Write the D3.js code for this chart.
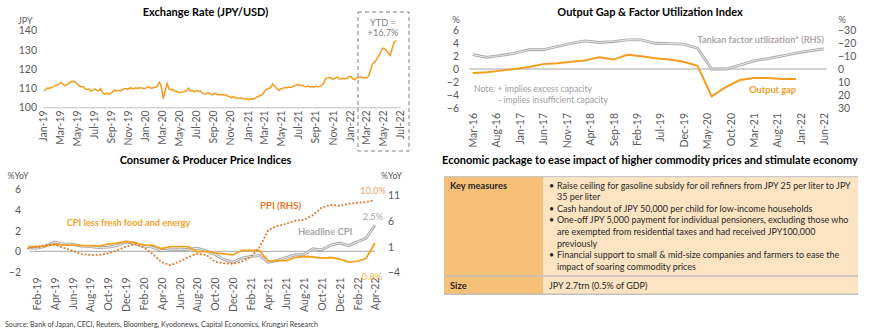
<!DOCTYPE html>
<html>
<head>
<meta charset="utf-8">
<script src="https://cdn.jsdelivr.net/npm/d3@7"></script>
<style>
  body { margin: 0; background: #fff; }
  svg { display: block; font-family: Lato, "Open Sans", sans-serif; }
</style>
</head>
<body>
<svg id="chart" width="870" height="333"></svg>
<script>
// ---------------- data ----------------
// weekly JPY/USD, first Friday of 2019 onwards
const fxStart = "2019-01-04";
const fxWeekly = [
  // 2019
  108.6, 109.2, 110.1, 109.8,  110.4, 110.9, 111.3, 111.6,  112.4, 112.9, 111.8, 111.2, 112.0,
  112.6, 113.4, 113.6, 113.2,  112.4, 111.3, 110.6, 110.9, 109.6,  109.3, 109.6, 108.4, 108.9,
  109.6, 108.8, 108.5, 109.7,  107.6, 106.9, 107.4, 106.8, 107.3,  107.9, 108.9, 108.6, 108.8,
  108.4, 109.2, 109.5, 109.8,  109.3, 110.1, 109.9, 109.6, 110.2,  109.7, 110.3, 110.0, 109.8,
  // 2020
  109.9, 110.7, 110.5, 109.8, 110.2,  110.6, 110.9, 113.0, 111.2,  104.4, 108.6, 112.4, 109.6,
  109.0, 109.4, 108.5, 108.2,  107.6, 107.8, 107.9, 108.2, 108.6,  110.0, 108.4, 108.8, 108.1,
  108.7, 108.2, 108.6, 107.4, 106.9,  107.1, 107.7, 107.0, 106.5,  107.2, 107.1, 106.4, 106.6,
  106.5, 106.6, 106.3, 105.8, 105.5,  104.9, 105.7, 104.8, 104.9,  104.6, 104.9, 104.3, 104.6,
  // 2021
  104.3, 104.0, 104.5, 104.2, 104.7,  105.5, 105.9, 106.3, 106.8,  108.6, 109.6, 109.8, 110.4,
  112.2, 110.9, 109.8, 108.9, 109.5,  109.8, 110.4, 110.1, 110.6,  110.3, 110.6, 111.2, 111.5,
  112.1, 111.3, 111.6, 110.9, 110.7,  111.1, 110.6, 110.8, 110.5,  110.9, 110.7, 110.8, 111.4,
  112.6, 115.0, 115.2, 115.6, 115.0,  114.7, 115.3, 115.7, 114.8,  114.9, 115.1, 114.8, 115.2, 116.0,
  // 2022
  116.0, 114.7, 114.4, 115.3,  115.6, 115.9, 115.3, 115.4,  115.4, 116.4, 119.6, 122.6,
  123.5, 124.8, 126.5, 128.4, 130.8,  130.5, 129.6, 128.3, 127.0,  130.6, 133.9, 134.8
];

// quarterly, from Mar-16
const gapStart = "2016-03-01";
const outputGap = [-0.6, -0.5, -0.25, 0.0, 0.3, 0.75, 0.9, 1.1, 1.3, 1.8, 1.45, 2.2,
  1.95, 1.65, 1.45, 1.1, 0.5, -4.2, -2.8, -1.7, -1.4, -1.4, -1.55, -1.55];
const tankan = [-11, -9, -10.4, -12.2, -14.8, -14.8, -17.3, -19.8, -21.6, -20.4, -21.1, -22.4,
  -22.4, -19.8, -19.5, -19.1, -16, 0, 0, -3, -6.3, -8, -10, -12.3, -14, -15.5];

// monthly % YoY, from Jan-19
const cpiStart = "2019-01-01";
const coreCpi = [0.45, 0.45, 0.5, 0.7, 0.6, 0.6, 0.55, 0.55, 0.5, 0.7, 0.8, 0.95,
  0.85, 0.6, 0.6, 0.25, 0.45, 0.45, 0.45, -0.05, 0.0, -0.15, -0.25, -0.35,
  0.1, 0.1, 0.1, -0.95, -0.9, -0.9, -0.6, -0.5, -0.55, -0.65, -0.6, -0.75,
  -1.05, -0.95, -0.7, 0.8];
const headlineCpi = [0.3, 0.3, 0.5, 0.9, 0.7, 0.7, 0.5, 0.45, 0.35, 0.4, 0.55, 0.9,
  0.75, 0.5, 0.4, 0.05, 0.15, 0.15, 0.2, 0.3, 0.05, -0.3, -0.8, -1.05,
  -0.65, -0.5, -0.4, -1.05, -0.9, -0.6, -0.35, -0.3, 0.25, 0.15, 0.6, 0.8,
  0.55, 0.95, 1.25, 2.55];
const ppi = [0.7, 0.9, 1.3, 1.4, 0.8, 0.2, -0.4, -0.6, -0.6, -0.3, 0.3, 1.0,
  1.5, 0.8, -0.4, -2.0, -2.6, -1.9, -1.0, -0.4, -0.6, -1.9, -2.2, -2.3,
  -1.9, -0.9, 0.8, 4.2, 5.0, 5.4, 6.0, 6.2, 7.1, 8.6, 9.1, 8.9,
  9.3, 9.5, 9.6, 10.0];

const keyMeasures = [
  ["Raise ceiling for gasoline subsidy for oil refiners from JPY 25 per liter to  JPY", "35 per liter"],
  ["Cash handout of JPY 50,000 per child for low-income households"],
  ["One-off JPY 5,000 payment for individual pensioners, excluding those who",
   "are exempted from residential taxes and had received JPY100,000", "previously"],
  ["Financial support to small & mid-size companies and farmers to ease the",
   "impact of soaring commodity prices"]
];
const packageSize = "JPY 2.7trn (0.5% of GDP)";
const sourceNote = "Source: Bank of Japan, CECI, Reuters, Bloomberg, Kyodonews, Capital Economics, Krungsri Research";

// ---------------- helpers ----------------
const parse = d3.timeParse("%Y-%m-%d");
const monthFmt = d3.timeFormat("%b-%y");
const svg = d3.select("#chart");
const axisColor = "#595959";
const orange = "#F39C1F";
const tickSize = 10.5;

function styleAxis(g, size) {
  g.attr("color", axisColor).attr("font-size", size).attr("font-family", null);
  g.select(".domain").remove();
}
function rotateLabels(g, pad) {
  g.selectAll(".tick text")
    .attr("transform", "rotate(-90)")
    .attr("text-anchor", "end")
    .attr("x", -pad).attr("y", 0).attr("dy", "0.35em");
}
function label(txt, x, y, opts = {}) {
  return svg.append("text").text(txt)
    .attr("x", x).attr("y", y)
    .attr("text-anchor", opts.anchor || "start")
    .attr("font-size", opts.size || 9)
    .attr("font-weight", opts.bold ? "bold" : null)
    .attr("fill", opts.color || axisColor);
}
// font size that makes txt about `width` px wide (a few passes, hinting is not linear)
function fitSize(txt, width) {
  const probe = svg.append("text").text(txt);
  let s = 9;
  for (let k = 0; k < 4; k++) {
    probe.attr("font-size", s);
    s = s * width / probe.node().getBBox().width;
  }
  probe.remove();
  return s;
}
function grayLine(data, line) {
  svg.append("path").datum(data).attr("d", line)
    .attr("fill", "none").attr("stroke", "#A5A5A5").attr("stroke-width", 2.8);
  svg.append("path").datum(data).attr("d", line)
    .attr("fill", "none").attr("stroke", "#E6E6E6").attr("stroke-width", 1.1);
}

// ---------------- exchange rate ----------------
const fx = fxWeekly.map((v, i) => ({ date: d3.timeWeek.offset(parse(fxStart), i), v }));
const xFx = d3.scaleTime().domain([parse("2019-01-01"), parse("2022-07-01")]).range([43, 400]);
const yFx = d3.scaleLinear().domain([100, 140]).range([107.3, 30.5]);

svg.append("g").attr("transform", "translate(42,0)")
  .call(d3.axisLeft(yFx).tickValues([100, 110, 120, 130, 140]).tickSize(0).tickPadding(5))
  .call(g => styleAxis(g, tickSize));
const fxAxis = svg.append("g").attr("transform", `translate(0,${yFx(100)})`)
  .call(d3.axisBottom(xFx).ticks(d3.timeMonth.every(2)).tickFormat(monthFmt).tickSize(0).tickSizeOuter(0))
  .call(g => { g.attr("color", axisColor).attr("font-size", tickSize).attr("font-family", null); rotateLabels(g, 3); });
fxAxis.select(".domain").attr("stroke", "#BFBFBF");

svg.append("path").datum(fx)
  .attr("d", d3.line().x(d => xFx(d.date)).y(d => yFx(d.v)))
  .attr("fill", "none").attr("stroke", orange).attr("stroke-width", 1.5);

svg.append("rect").attr("x", 358).attr("y", 12).attr("width", 51).attr("height", 139)
  .attr("fill", "none").attr("stroke", "#7F7F7F").attr("stroke-dasharray", "4,3");
label("YTD =", 383, 26, { anchor: "middle", size: 9.2, color: "#7F7F7F" });
label("+16.7%", 383, 36, { anchor: "middle", size: 9.2, color: "#7F7F7F" });
label("Exchange Rate (JPY/USD)", 205.5, 16, { anchor: "middle", size: 11, bold: true, color: "#000" });
label("JPY", 18, 23.5, { size: 9 });

// ---------------- output gap ----------------
const gap0 = parse(gapStart);
const xGap = d3.scaleTime().domain([gap0, parse("2022-06-01")]).range([472.7, 824]);
const yGapL = d3.scaleLinear().domain([-6, 6]).range([108, 30]);
const yGapR = d3.scaleLinear().domain([-30, 30]).range([30, 108]);

svg.append("g").attr("transform", "translate(464,0)")
  .call(d3.axisLeft(yGapL).tickValues(d3.range(-6, 7, 2)).tickSize(0).tickPadding(5))
  .call(g => styleAxis(g, tickSize));
svg.append("g").attr("transform", "translate(833,0)")
  .call(d3.axisRight(yGapR).tickValues(d3.range(-30, 31, 10)).tickSize(0).tickPadding(5))
  .call(g => styleAxis(g, tickSize));
svg.append("g").attr("transform", "translate(0,110)")
  .call(d3.axisBottom(xGap).tickValues(d3.range(0, 76, 5).map(m => d3.timeMonth.offset(gap0, m)))
    .tickFormat(monthFmt).tickSize(0))
  .call(g => { styleAxis(g, tickSize); rotateLabels(g, 3); });
svg.append("line").attr("x1", 469).attr("x2", 827).attr("y1", yGapL(0)).attr("y2", yGapL(0))
  .attr("stroke", "#A6A6A6");

grayLine(tankan.map((v, i) => ({ date: d3.timeMonth.offset(gap0, 3 * i), v })),
  d3.line().x(d => xGap(d.date)).y(d => yGapR(d.v)));
svg.append("path").datum(outputGap.map((v, i) => ({ date: d3.timeMonth.offset(gap0, 3 * i), v })))
  .attr("d", d3.line().x(d => xGap(d.date)).y(d => yGapL(d.v)))
  .attr("fill", "none").attr("stroke", orange).attr("stroke-width", 2);

label("Output Gap & Factor Utilization Index", 650, 15.7, { anchor: "middle", size: 11, bold: true, color: "#000" });
label("%", 456, 22.5, { anchor: "middle", size: 9.5 });
label("%", 842, 22.5, { anchor: "middle", size: 9.5 });
label("Tankan factor utilization* (RHS)", 824, 42.5, { anchor: "end", size: 9.1, bold: true, color: "#ABA5A5" });
label("Output gap", 796, 93, { anchor: "end", size: 9.2, bold: true, color: orange });
label("Note: + implies excess capacity", 474, 91.5, { size: 8.7, color: "#9E9E9E" });
label("- implies insufficient capacity", 498, 102.5, { size: 8.7, color: "#9E9E9E" });

// ---------------- CPI / PPI ----------------
const cpi0 = parse(cpiStart);
const xCpi = d3.scaleTime().domain([parse("2019-02-01"), parse("2022-04-01")]).range([37.3, 375]);
const yCpiL = d3.scaleLinear().domain([-2, 6]).range([272, 189.3]);
const yCpiR = d3.scaleLinear().domain([-4, 11]).range([272.5, 195]);
const cpiX = (v, i) => ({ date: d3.timeMonth.offset(cpi0, i), v });

svg.append("g").attr("transform", "translate(26,0)")
  .call(d3.axisLeft(yCpiL).tickValues([-2, 0, 2, 4, 6]).tickSize(0).tickPadding(5))
  .call(g => styleAxis(g, tickSize));
svg.append("g").attr("transform", "translate(383,0)")
  .call(d3.axisRight(yCpiR).tickValues([-4, 1, 6, 11]).tickSize(0).tickPadding(5))
  .call(g => styleAxis(g, tickSize));
svg.append("g").attr("transform", "translate(0,274.5)")
  .call(d3.axisBottom(xCpi).tickValues(d3.range(0, 39, 2).map(m => d3.timeMonth.offset(parse("2019-02-01"), m)))
    .tickFormat(monthFmt).tickSize(0))
  .call(g => { styleAxis(g, tickSize); rotateLabels(g, 3); });
svg.append("line").attr("x1", 30).attr("x2", 375).attr("y1", yCpiL(0)).attr("y2", yCpiL(0))
  .attr("stroke", "#A6A6A6");

grayLine(headlineCpi.map(cpiX), d3.line().x(d => xCpi(d.date)).y(d => yCpiL(d.v)));
svg.append("path").datum(coreCpi.map(cpiX))
  .attr("d", d3.line().x(d => xCpi(d.date)).y(d => yCpiL(d.v)))
  .attr("fill", "none").attr("stroke", "#F4A11F").attr("stroke-width", 1.8);
svg.append("path").datum(ppi.map(cpiX))
  .attr("d", d3.line().x(d => xCpi(d.date)).y(d => yCpiR(d.v)))
  .attr("fill", "none").attr("stroke", "#E8772A").attr("stroke-width", 2)
  .attr("stroke-dasharray", "0.1,3.6").attr("stroke-linecap", "round");

label("Consumer & Producer Price Indices", 205.5, 164, { anchor: "middle", size: 11, bold: true, color: "#000" });
label("%YoY", 7.5, 179, { size: 8.8 });
label("%YoY", 381, 179, { size: 8.8 });
label("CPI less fresh food and energy", 66.7, 226, { size: 9.2, bold: true, color: "#F4A11F" });
label("PPI (RHS)", 260, 208.5, { size: 9.6, bold: true, color: "#E8772A" });
label("Headline CPI", 298, 235, { size: 9.4, bold: true, color: "#A6A6A6" });
label("10.0%", 373, 194, { anchor: "middle", size: 9.3, color: "#F0A060" });
label("2.5%", 373, 220, { anchor: "middle", size: 9.3, color: "#A6A6A6" });
label("0.8%", 372, 279.5, { anchor: "middle", size: 9.3, color: "#F4B040" });

label(sourceNote, 5, 326.5, { size: fitSize(sourceNote, 313), color: "#404040" });

// ---------------- table ----------------
label("Economic package to ease impact of higher commodity prices and stimulate economy",
  650, 164, { anchor: "middle", size: 11, bold: true, color: "#000" });

const tX = 444, tW = 414, c1 = 99, r1Top = 176.7, r1H = 99.3, r2H = 18.3;
svg.append("rect").attr("x", tX).attr("y", r1Top).attr("width", c1).attr("height", r1H + r2H).attr("fill", "#F7C077");
svg.append("rect").attr("x", tX + c1).attr("y", r1Top).attr("width", tW - c1).attr("height", r1H + r2H).attr("fill", "#FCE4C2");
[r1Top, r1Top + r1H, r1Top + r1H + r2H].forEach(y =>
  svg.append("line").attr("x1", tX).attr("x2", tX + tW).attr("y1", y).attr("y2", y)
    .attr("stroke", "#BFBFBF").attr("stroke-width", y === r1Top ? 1 : 1.6));

const bodySize = fitSize(keyMeasures[0][0], 294);
label("Key measures", 450, 188.5, { size: 9.3, bold: true, color: "#262626" });
label("Size", 450, 288.5, { size: 9.3, bold: true, color: "#262626" });
let ln = 0;
keyMeasures.forEach(item => {
  item.forEach((txt, j) => {
    const y = 188.5 + ln * 11.6;
    if (j === 0) label("\u2022", 549, y, { size: bodySize, color: "#262626" });
    label(txt, 557, y, { size: bodySize, color: "#262626" });
    ln++;
  });
});
label(packageSize, 549, 288.5, { size: bodySize, color: "#262626" });
</script>
</body>
</html>
